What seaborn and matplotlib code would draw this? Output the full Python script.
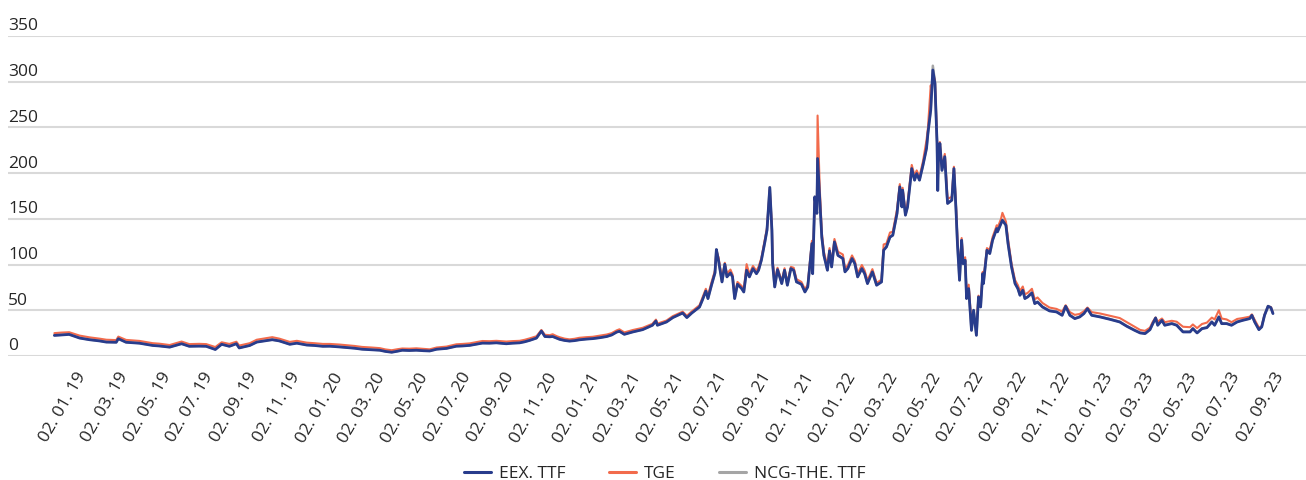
import pandas as pd
import matplotlib.pyplot as plt
import matplotlib.transforms as mtransforms
import seaborn as sns

# gas prices (EUR/MWh)
dates = [
    '2018-11-27', '2018-12-07', '2018-12-18', '2019-01-02', '2019-01-16', '2019-01-30',
    '2019-02-09', '2019-02-23', '2019-02-26', '2019-03-09', '2019-03-28', '2019-04-16',
    '2019-04-25', '2019-05-10', '2019-05-27', '2019-06-07', '2019-06-21', '2019-07-01',
    '2019-07-14', '2019-07-23', '2019-08-03', '2019-08-13', '2019-08-17', '2019-09-01',
    '2019-09-11', '2019-09-22', '2019-10-03', '2019-10-13', '2019-10-28', '2019-11-07',
    '2019-11-21', '2019-12-02', '2019-12-14', '2019-12-24', '2020-01-07', '2020-01-17',
    '2020-01-28', '2020-02-08', '2020-02-21', '2020-03-04', '2020-03-12', '2020-03-21',
    '2020-03-29', '2020-04-05', '2020-04-15', '2020-04-25', '2020-05-05', '2020-05-14',
    '2020-05-24', '2020-06-07', '2020-06-21', '2020-06-30', '2020-07-10', '2020-07-20',
    '2020-07-28', '2020-08-07', '2020-08-17', '2020-08-31', '2020-09-09', '2020-09-19',
    '2020-09-26', '2020-10-03', '2020-10-13', '2020-10-20', '2020-10-25', '2020-11-01',
    '2020-11-05', '2020-11-11', '2020-11-15', '2020-11-22', '2020-11-29', '2020-12-06',
    '2020-12-13', '2020-12-23', '2021-01-01', '2021-01-11', '2021-01-21', '2021-01-28',
    '2021-02-04', '2021-02-08', '2021-02-15', '2021-02-27', '2021-03-13', '2021-03-27',
    '2021-04-01', '2021-04-03', '2021-04-16', '2021-04-25', '2021-05-09', '2021-05-15',
    '2021-05-22', '2021-06-02', '2021-06-06', '2021-06-11', '2021-06-14', '2021-06-19',
    '2021-06-24', '2021-06-26', '2021-06-29', '2021-07-04', '2021-07-08', '2021-07-11',
    '2021-07-16', '2021-07-19', '2021-07-22', '2021-07-26', '2021-08-01', '2021-08-04',
    '2021-08-08', '2021-08-12', '2021-08-17', '2021-08-22', '2021-08-25', '2021-08-29',
    '2021-09-03', '2021-09-06', '2021-09-10', '2021-09-13', '2021-09-14', '2021-09-17',
    '2021-09-21', '2021-09-27', '2021-10-01', '2021-10-05', '2021-10-10', '2021-10-14',
    '2021-10-18', '2021-10-25', '2021-10-30', '2021-11-03', '2021-11-09', '2021-11-10',
    '2021-11-13', '2021-11-16', '2021-11-17', '2021-11-20', '2021-11-23', '2021-11-26',
    '2021-12-01', '2021-12-04', '2021-12-07', '2021-12-11', '2021-12-16', '2021-12-23',
    '2021-12-26', '2021-12-30', '2022-01-05', '2022-01-09', '2022-01-13', '2022-01-19',
    '2022-01-23', '2022-01-27', '2022-02-03', '2022-02-09', '2022-02-16', '2022-02-19',
    '2022-02-23', '2022-02-28', '2022-03-04', '2022-03-10', '2022-03-14', '2022-03-17',
    '2022-03-18', '2022-03-22', '2022-03-25', '2022-03-31', '2022-04-04', '2022-04-07',
    '2022-04-11', '2022-04-16', '2022-04-21', '2022-04-23', '2022-04-27', '2022-04-28',
    '2022-04-30', '2022-05-03', '2022-05-06', '2022-05-07', '2022-05-08', '2022-05-10',
    '2022-05-13', '2022-05-17', '2022-05-20', '2022-05-21', '2022-05-27', '2022-05-30',
    '2022-06-02', '2022-06-04', '2022-06-07', '2022-06-10', '2022-06-12', '2022-06-15',
    '2022-06-17', '2022-06-20', '2022-06-24', '2022-06-27', '2022-07-01', '2022-07-04',
    '2022-07-07', '2022-07-10', '2022-07-11', '2022-07-16', '2022-07-20', '2022-07-24',
    '2022-07-30', '2022-07-31', '2022-08-05', '2022-08-07', '2022-08-12', '2022-08-15',
    '2022-08-20', '2022-08-25', '2022-08-29', '2022-09-01', '2022-09-05', '2022-09-08',
    '2022-09-12', '2022-09-18', '2022-09-22', '2022-09-26', '2022-10-03', '2022-10-13',
    '2022-10-23', '2022-10-31', '2022-11-05', '2022-11-11', '2022-11-18', '2022-11-25',
    '2022-12-01', '2022-12-06', '2022-12-12', '2022-12-24', '2023-01-07', '2023-01-21',
    '2023-01-31', '2023-02-11', '2023-02-19', '2023-02-26', '2023-03-05', '2023-03-09',
    '2023-03-13', '2023-03-16', '2023-03-22', '2023-03-26', '2023-04-05', '2023-04-12',
    '2023-04-21', '2023-05-01', '2023-05-05', '2023-05-11', '2023-05-18', '2023-05-25',
    '2023-06-01', '2023-06-05', '2023-06-11', '2023-06-15', '2023-06-22', '2023-06-29',
    '2023-07-07', '2023-07-15', '2023-07-25', '2023-07-28', '2023-08-01', '2023-08-07',
    '2023-08-11', '2023-08-15', '2023-08-20', '2023-08-24', '2023-08-27',
]

eex_ttf = [
    22.5, 23.0, 23.6, 19.6, 17.8, 16.5, 15.2, 15.0, 18.9, 15.0, 14.0, 11.5,
    11.0, 9.7, 13.4, 10.6, 10.8, 10.6, 7.1, 12.8, 10.6, 13.4, 8.8, 11.5,
    15.2, 16.5, 17.8, 16.5, 12.8, 14.0, 12.0, 11.5, 10.6, 10.7, 9.9, 9.2,
    8.5, 7.4, 6.8, 6.3, 5.0, 4.1, 5.2, 6.3, 6.0, 6.3, 5.8, 5.5,
    7.4, 8.3, 10.7, 11.0, 11.6, 13.0, 14.1, 14.0, 14.4, 13.4, 14.0, 14.4,
    15.5, 17.0, 19.6, 27.3, 21.3, 21.0, 21.3, 19.5, 18.2, 17.0, 16.3, 16.8,
    17.7, 18.5, 19.0, 20.0, 21.3, 23.0, 26.1, 27.0, 23.7, 26.3, 28.8, 33.6,
    38.3, 33.6, 37.2, 42.0, 47.0, 42.0, 47.0, 53.6, 61.0, 71.0, 62.8, 77.4,
    90.9, 116.4, 104.7, 81.0, 100.4, 86.5, 90.9, 86.5, 62.8, 78.5, 73.7, 70.0,
    93.8, 86.5, 95.6, 90.0, 93.8, 104.7, 124.8, 137.6, 184.3, 137.6, 101.0, 75.5,
    94.5, 79.2, 93.8, 77.4, 95.6, 93.8, 81.0, 78.5, 70.0, 75.5, 123.0, 90.0,
    174.0, 156.0, 216.0, 174.0, 130.0, 110.0, 93.8, 115.0, 97.4, 124.8, 110.0, 106.6,
    92.0, 95.6, 106.6, 101.0, 86.5, 95.6, 90.0, 79.2, 92.0, 77.4, 81.0, 115.7,
    119.3, 130.0, 132.0, 155.8, 185.0, 163.0, 181.4, 154.0, 163.0, 205.0, 192.3, 199.6,
    192.3, 208.8, 227.0, 243.4, 269.0, 283.6, 312.8, 298.0, 232.5, 181.0, 218.0, 232.5,
    203.0, 218.0, 177.7, 166.8, 170.4, 205.0, 159.5, 123.0, 82.8, 126.6, 101.0, 104.7,
    62.8, 73.7, 28.0, 50.0, 22.6, 64.6, 53.6, 90.0, 79.2, 115.7, 112.0, 126.6,
    139.4, 135.8, 144.9, 148.5, 143.0, 123.0, 97.4, 79.2, 73.7, 66.4, 71.9, 62.8,
    64.6, 69.0, 57.3, 59.0, 53.6, 49.3, 48.2, 44.5, 54.4, 44.5, 40.9, 42.7,
    46.4, 51.8, 44.5, 42.7, 40.1, 37.2, 32.5, 28.1, 25.2, 24.5, 28.8, 35.4,
    41.6, 33.6, 39.0, 33.6, 35.4, 33.6, 26.3, 26.3, 29.9, 25.2, 29.9, 31.0,
    37.2, 33.6, 42.7, 35.4, 35.4, 33.6, 37.2, 39.0, 40.9, 44.5, 37.2, 28.8,
    31.8, 44.5, 54.4, 52.9, 46.4,
]

tge = [
    25.0, 25.6, 26.0, 22.3, 20.4, 19.0, 17.8, 17.4, 21.2, 17.6, 16.5, 14.0,
    13.5, 12.0, 15.8, 13.0, 13.3, 13.0, 9.8, 15.0, 13.2, 15.6, 11.4, 14.0,
    17.8, 19.2, 20.6, 19.0, 15.4, 16.6, 14.6, 14.0, 13.2, 13.2, 12.5, 11.8,
    11.0, 9.9, 9.3, 8.6, 7.2, 6.3, 7.4, 8.2, 8.0, 8.4, 7.8, 7.3,
    9.3, 10.3, 12.8, 13.2, 13.8, 15.3, 16.4, 16.2, 16.6, 15.8, 16.3, 16.6,
    17.7, 19.2, 21.6, 28.5, 23.2, 22.8, 23.8, 21.6, 20.5, 19.0, 18.2, 18.8,
    19.9, 20.6, 21.0, 22.2, 23.5, 25.0, 28.0, 29.2, 25.8, 28.4, 30.8, 35.2,
    39.8, 35.4, 38.8, 43.6, 48.5, 44.0, 48.8, 55.5, 63.5, 73.5, 66.0, 80.5,
    93.5, 115.0, 108.0, 84.0, 102.0, 90.0, 94.5, 89.0, 66.0, 81.0, 76.5, 72.5,
    100.5, 89.5, 98.5, 93.0, 97.5, 107.0, 127.5, 140.0, 182.0, 141.0, 106.0, 82.0,
    96.5, 82.0, 96.0, 80.0, 97.5, 96.5, 84.0, 81.0, 73.0, 78.0, 126.0, 94.0,
    172.0, 160.0, 263.0, 185.0, 135.0, 114.0, 98.0, 118.0, 101.0, 128.0, 114.0, 111.0,
    96.0, 99.0, 110.0, 104.0, 90.0, 99.5, 93.5, 82.5, 95.0, 80.0, 83.5, 122.0,
    123.0, 135.0, 136.0, 160.0, 188.0, 167.0, 184.0, 158.0, 167.0, 209.0, 197.0, 203.0,
    196.0, 213.0, 236.0, 249.0, 296.0, 290.0, 308.0, 302.0, 236.0, 186.0, 222.0, 234.0,
    207.0, 221.0, 183.0, 172.0, 174.0, 207.0, 164.0, 128.0, 90.0, 129.0, 106.0, 108.0,
    68.0, 78.0, 35.0, 45.0, 30.0, 66.0, 58.0, 92.0, 83.0, 118.0, 116.0, 130.0,
    143.0, 140.0, 150.0, 156.6, 147.0, 128.0, 101.0, 83.0, 77.5, 71.0, 76.0, 67.5,
    69.0, 73.5, 62.0, 64.0, 58.0, 53.0, 51.5, 48.5, 55.5, 48.0, 45.0, 46.0,
    49.0, 53.0, 48.0, 46.5, 44.0, 41.5, 37.0, 32.0, 28.5, 27.5, 31.0, 37.5,
    42.0, 37.5, 41.0, 37.0, 38.5, 37.5, 32.0, 31.5, 34.5, 30.5, 35.0, 36.5,
    42.0, 40.0, 50.0, 41.0, 40.0, 37.0, 40.5, 41.5, 43.0, 45.5, 39.5, 31.0,
    32.5, 45.0, 54.0, 53.5, 47.0,
]

ncg_the_ttf = [
    22.8, 23.2, 23.9, 19.9, 18.0, 16.8, 15.5, 15.2, 19.1, 15.3, 14.2, 11.8,
    11.2, 9.9, 13.6, 10.8, 11.0, 10.9, 7.4, 13.0, 10.8, 13.6, 9.0, 11.7,
    15.4, 16.8, 18.0, 16.7, 13.0, 14.3, 12.2, 11.7, 10.8, 10.9, 10.1, 9.4,
    8.7, 7.6, 7.0, 6.5, 5.2, 4.3, 5.4, 6.5, 6.2, 6.5, 6.0, 5.7,
    7.6, 8.5, 10.9, 11.2, 11.8, 13.2, 14.3, 14.2, 14.6, 13.6, 14.2, 14.6,
    15.7, 17.2, 19.8, 27.5, 21.5, 21.2, 21.5, 19.7, 18.4, 17.2, 16.5, 17.0,
    17.9, 18.7, 19.2, 20.2, 21.5, 23.2, 26.3, 27.2, 23.9, 26.5, 29.0, 33.8,
    38.5, 33.8, 37.4, 42.2, 47.2, 42.3, 47.2, 53.8, 61.3, 71.3, 63.0, 77.6,
    91.2, 116.6, 105.0, 81.3, 100.6, 86.8, 91.2, 86.8, 63.0, 78.8, 74.0, 70.3,
    94.0, 86.8, 95.9, 90.3, 94.0, 105.0, 125.0, 138.0, 184.6, 138.0, 101.3, 75.8,
    94.8, 79.5, 94.0, 77.7, 95.9, 94.0, 81.3, 78.8, 70.3, 75.8, 123.3, 90.3,
    174.3, 156.3, 217.0, 174.5, 130.3, 110.3, 94.0, 115.3, 97.7, 125.0, 110.3, 106.9,
    92.3, 95.9, 106.9, 101.3, 86.8, 95.9, 90.3, 79.5, 92.3, 77.7, 81.3, 116.0,
    119.6, 130.3, 132.3, 156.1, 185.4, 163.3, 181.7, 154.3, 163.3, 205.3, 192.6, 199.9,
    192.6, 209.1, 227.5, 243.8, 270.0, 285.0, 317.5, 300.0, 233.0, 181.5, 218.5, 233.0,
    203.4, 218.4, 178.0, 167.1, 170.7, 205.3, 159.8, 123.3, 83.1, 126.9, 101.3, 105.0,
    63.1, 74.0, 28.3, 50.3, 22.9, 64.9, 53.9, 90.3, 79.5, 116.0, 112.3, 126.9,
    139.7, 136.1, 145.2, 148.8, 143.3, 123.3, 97.7, 79.5, 74.0, 66.7, 72.2, 63.1,
    64.9, 69.3, 57.6, 59.3, 53.9, 49.6, 48.5, 44.8, 54.7, 44.8, 41.2, 43.0,
    46.7, 52.1, 44.8, 43.0, 40.4, 37.5, 32.8, 28.4, 25.5, 24.8, 29.1, 35.7,
    41.9, 33.9, 39.3, 33.9, 35.7, 33.9, 26.6, 26.6, 30.2, 25.5, 30.2, 31.3,
    37.5, 33.9, 43.0, 35.7, 35.7, 33.9, 37.5, 39.3, 41.2, 44.8, 37.5, 29.1,
    32.1, 44.8, 54.7, 53.2, 46.7,
]

series_names = ['EEX. TTF', 'TGE', 'NCG-THE. TTF']
series_colors = ['#283c8c', '#f26b4c', '#a5a5a5']
tick_labels = [
    '02. 01. 19', '02. 03. 19', '02. 05. 19', '02. 07. 19', '02. 09. 19', '02. 11. 19',
    '02. 01. 20', '02. 03. 20', '02. 05. 20', '02. 07. 20', '02. 09. 20', '02. 11. 20',
    '02. 01. 21', '02. 03. 21', '02. 05. 21', '02. 07. 21', '02. 09. 21', '02. 11. 21',
    '02. 01. 22', '02. 03. 22', '02. 05. 22', '02. 07. 22', '02. 09. 22', '02. 11. 22',
    '02. 01. 23', '02. 03. 23', '02. 05. 23', '02. 07. 23', '02. 09. 23',
]
y_ticks = [0, 50, 100, 150, 200, 250, 300, 350]

df = pd.DataFrame({'date': pd.to_datetime(dates),
                   'EEX. TTF': eex_ttf, 'TGE': tge, 'NCG-THE. TTF': ncg_the_ttf})
long_df = df.melt(id_vars='date', var_name='series', value_name='price')

sns.set_theme(style='white')
plt.rcParams['font.family'] = ['Open Sans', 'DejaVu Sans']
text_color = '#262626'

fig = plt.figure(figsize=(13.06, 4.8), dpi=100)
ax = fig.add_axes([8 / 1306, 124 / 480, 1298 / 1306, 320 / 480])

sns.lineplot(data=long_df, x='date', y='price', hue='series', hue_order=series_names,
             palette=series_colors, estimator=None, ax=ax, legend=True)

# blue on top, then TGE, grey underneath
widths = [2.0, 1.5, 1.8]
zorders = [3.0, 2.5, 2.0]
for line, lw, z in zip(ax.lines[:3], widths, zorders):
    line.set_linewidth(lw)
    line.set_zorder(z)
    line.set_solid_joinstyle('round')

ax.set_ylim(0, 350)
ax.set_yticks(y_ticks)
ax.set_yticklabels([])
ax.tick_params(axis='y', length=0)
ax.grid(axis='y', color='#d9d9d9', linewidth=1.5)
ax.set_axisbelow(True)
for val in y_ticks:
    ax.annotate(str(val), xy=(0, val), xycoords=('axes fraction', 'data'),
                xytext=(0, 4), textcoords='offset points',
                ha='left', va='baseline', fontsize=12.5, color=text_color)

ax.set_xlim(pd.Timestamp('2018-09-22'), pd.Timestamp('2023-10-13'))
tick_dates = pd.to_datetime(tick_labels, format='%d. %m. %y')
ax.set_xticks(tick_dates)
ax.set_xticklabels(tick_labels)
ax.tick_params(axis='x', length=0, pad=13, labelsize=12.5, labelcolor=text_color)
shift = mtransforms.ScaledTranslation(3 / 100, 0, fig.dpi_scale_trans)
for lab in ax.get_xticklabels():
    lab.set_rotation(60)
    lab.set_ha('right')
    lab.set_va('center')
    lab.set_rotation_mode('anchor')
    lab.set_transform(lab.get_transform() + shift)

ax.set_xlabel('')
ax.set_ylabel('')
sns.despine(ax=ax, left=True, bottom=True)

handles, labels = ax.get_legend_handles_labels()
ax.get_legend().remove()
leg = fig.legend(handles, labels, loc='center', bbox_to_anchor=(0.509, 0.012),
                 ncol=3, frameon=False, fontsize=12.5, handlelength=1.55,
                 handletextpad=0.45, columnspacing=2.5, borderpad=0)
for h, c in zip(leg.get_lines(), series_colors):
    h.set_color(c)
    h.set_linewidth(2.2)
for t in leg.get_texts():
    t.set_color(text_color)

fig.savefig('out.png', dpi=100)
